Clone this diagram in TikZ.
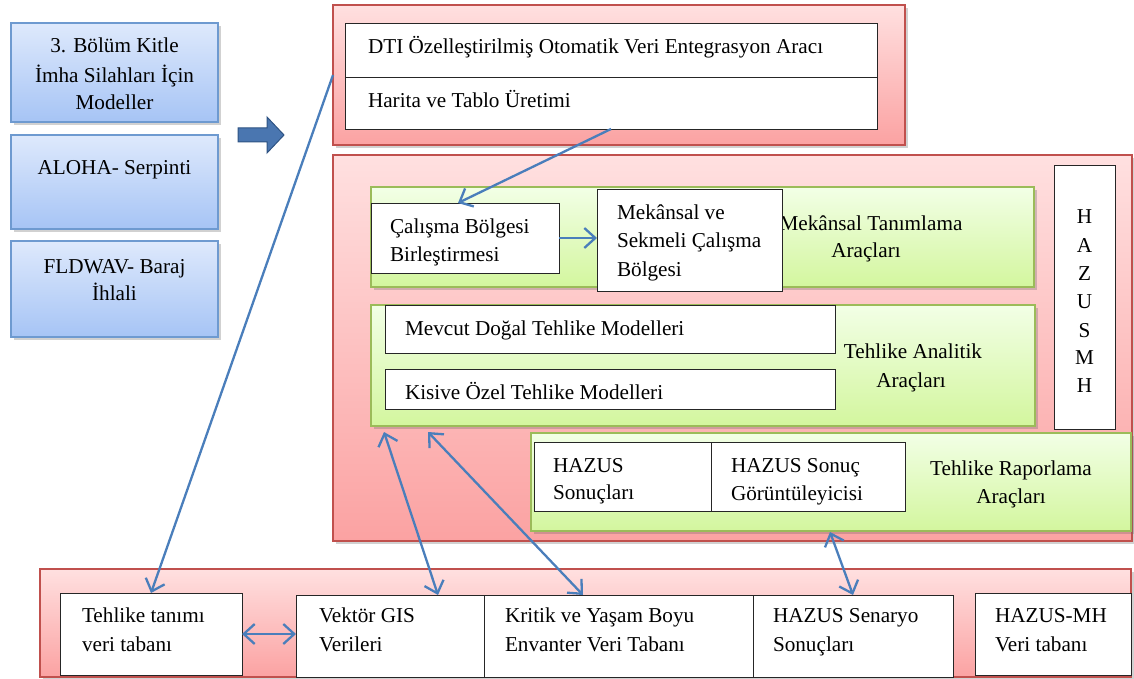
\documentclass[tikz,border=0pt]{standalone}
\usepackage{fontspec}
\setmainfont{Liberation Serif}
\usetikzlibrary{arrows.meta,shadows,calc}
\definecolor{redbd}{HTML}{C0504D}
\definecolor{redtop}{HTML}{FFE0E0}
\definecolor{redbot}{HTML}{FBA2A2}
\definecolor{grnbd}{HTML}{9BBB59}
\definecolor{grntop}{HTML}{F2FFE6}
\definecolor{grnbot}{HTML}{D3F69E}
\definecolor{blubd}{HTML}{6E9AD0}
\definecolor{blutop}{HTML}{DEE9FC}
\definecolor{blubot}{HTML}{A6C4F5}
\definecolor{arrc}{HTML}{4A7EBB}
\definecolor{barrfill}{HTML}{4A76B0}
\definecolor{barrdraw}{HTML}{2E5383}
\begin{document}
\begin{tikzpicture}[x=1pt,y=-1pt,
  every node/.style={inner sep=0pt, outer sep=0pt},
  fs/.style={font=\fontsize{21.2}{25}\selectfont},
  boxbase/.style={anchor=north west, rectangle},
  shad/.style={drop shadow={shadow xshift=3pt, shadow yshift=-3pt, opacity=0.3, fill=black!60}},
  redbox/.style={boxbase, draw=redbd, line width=1.4pt, top color=redtop, bottom color=redbot, shad},
  grnbox/.style={boxbase, draw=grnbd, line width=1.6pt, top color=grntop, bottom color=grnbot, shad},
  blubox/.style={boxbase, draw=blubd, line width=1.2pt, top color=blutop, bottom color=blubot, shad},
  whbox/.style={boxbase, draw=black!85, line width=0.9pt, fill=white},
  tl/.style={fs, anchor=base west},
  tc/.style={fs, anchor=base},
  conn/.style={draw=arrc, line width=2.3pt},
  tip/.style={-{Straight Barb[length=11pt, width=20pt, line width=2.3pt]}},
  tips/.style={{Straight Barb[length=11pt, width=20pt, line width=2.3pt]}-{Straight Barb[length=11pt, width=20pt, line width=2.3pt]}}
]
\useasboundingbox (0,0) rectangle (1134,679);

% left blue boxes
\node[blubox, minimum width=207pt, minimum height=99pt] (blue1) at (11,23) {};
\node[blubox, minimum width=207pt, minimum height=94pt] (blue2) at (11,135) {};
\node[blubox, minimum width=207pt, minimum height=96pt] (blue3) at (11,241) {};
\node[tc] (b1a) at (114.5,53) {3. Bölüm Kitle};
\node[tc] (b1b) at (114.5,83) {İmha Silahları İçin};
\node[tc] (b1c) at (114.5,110) {Modeller};
\node[tc] (b2a) at (114.5,175) {ALOHA- Serpinti};
\node[tc] (b3a) at (114.5,273) {FLDWAV- Baraj};
\node[tc] (b3b) at (114.5,300) {İhlali};

% block arrow
\draw[fill=barrfill, draw=barrdraw, line width=1pt, line join=miter]
  (238,128) -- (267,128) -- (267,117) -- (284,135) -- (267,153) -- (267,142) -- (238,142) -- cycle;

% top red box
\node[redbox, minimum width=572pt, minimum height=140pt] (topred) at (333,5) {};
\node[whbox, minimum width=532pt, minimum height=54pt] (dti) at (345,23) {};
\node[whbox, minimum width=532pt, minimum height=52pt] (harita) at (345,77) {};
\node[tl] (dtit) at (368,54) {DTI Özelleştirilmiş Otomatik Veri Entegrasyon Aracı};
\node[tl] (hart) at (368,108) {Harita ve Tablo Üretimi};

% middle red box
\node[redbox, minimum width=799pt, minimum height=386pt] (midred) at (333,155) {};

\node[grnbox, minimum width=663pt, minimum height=100pt] (green1) at (371,187) {};
\node[tc] (mt1) at (871,230) {Mekânsal Tanımlama};
\node[tc] (mt2) at (866,257) {Araçları};
\node[whbox, minimum width=188pt, minimum height=70pt] (calisma) at (371,203) {};
\node[tl] (ca1) at (390,233) {Çalışma Bölgesi};
\node[tl] (ca2) at (390,261) {Birleştirmesi};
\node[whbox, minimum width=185pt, minimum height=102pt] (mekansal) at (597,189) {};
\node[tl] (me1) at (617,219) {Mekânsal ve};
\node[tl] (me2) at (617,247) {Sekmeli Çalışma};
\node[tl] (me3) at (617,276) {Bölgesi};

\node[grnbox, minimum width=664pt, minimum height=121pt] (green2) at (371,305) {};
\node[whbox, minimum width=450pt, minimum height=48pt] (mevcut) at (385,305) {};
\node[whbox, minimum width=450pt, minimum height=40pt] (kisive) at (385,369) {};
\node[tl] (mvt) at (405,335) {Mevcut Doğal Tehlike Modelleri};
\node[tl] (kst) at (405,399) {Kisive Özel Tehlike Modelleri};
\node[tc] (ta1) at (913,358) {Tehlike Analitik};
\node[tc] (ta2) at (911,387) {Araçları};

\node[whbox, minimum width=61pt, minimum height=264pt] (hazusmh) at (1054,165) {};
\node[tc] (h1) at (1084.5,223) {H};
\node[tc] (h2) at (1084.5,252) {A};
\node[tc] (h3) at (1084.5,280) {Z};
\node[tc] (h4) at (1084.5,308) {U};
\node[tc] (h5) at (1084.5,337) {S};
\node[tc] (h6) at (1084.5,364) {M};
\node[tc] (h7) at (1084.5,392) {H};

\node[grnbox, minimum width=600pt, minimum height=98pt] (green3) at (531,433) {};
\node[whbox, minimum width=177pt, minimum height=69pt] (hsonuc) at (534,442) {};
\node[whbox, minimum width=194pt, minimum height=69pt] (hgor) at (711,442) {};
\node[tl] (hs1) at (553,472) {HAZUS};
\node[tl] (hs2) at (553,499) {Sonuçları};
\node[tl] (hg1) at (731,472) {HAZUS Sonuç};
\node[tl] (hg2) at (731,500) {Görüntüleyicisi};
\node[tc] (tr1) at (1011,475) {Tehlike Raporlama};
\node[tc] (tr2) at (1011,503) {Araçları};

% bottom red box
\node[redbox, minimum width=1091pt, minimum height=108pt] (botred) at (40,569) {};
\node[whbox, minimum width=182pt, minimum height=82pt] (tehlike) at (60,593) {};
\node[whbox, minimum width=188pt, minimum height=82pt] (vektor) at (296,595) {};
\node[whbox, minimum width=269pt, minimum height=82pt] (kritik) at (484,595) {};
\node[whbox, minimum width=200pt, minimum height=82pt] (senaryo) at (753,595) {};
\node[whbox, minimum width=156pt, minimum height=82pt] (hazusdb) at (975,593) {};
\node[tl] (te1) at (82,622) {Tehlike tanımı};
\node[tl] (te2) at (82,651) {veri tabanı};
\node[tl] (ve1) at (319,622) {Vektör GIS};
\node[tl] (ve2) at (319,651) {Verileri};
\node[tl] (kr1) at (505,622) {Kritik ve Yaşam Boyu};
\node[tl] (kr2) at (505,651) {Envanter Veri Tabanı};
\node[tl] (se1) at (773,622) {HAZUS Senaryo};
\node[tl] (se2) at (773,651) {Sonuçları};
\node[tl] (hd1) at (995,622) {HAZUS-MH};
\node[tl] (hd2) at (995,651) {Veri tabanı};

% connectors
\coordinate (c1) at ($(green2.south west)+(13,6)$);
\coordinate (c2) at ($(vektor.north west)+(142,0)$);
\coordinate (c3) at ($(green2.south west)+(57,6)$);
\coordinate (c4) at ($(kritik.north west)+(99,0)$);
\coordinate (c5) at ($(green3.south west)+(299,1)$);
\coordinate (c6) at ($(senaryo.north west)+(100,0)$);
\coordinate (c7) at ($(calisma.north)+(-7,0)$);

\draw[conn, tip] (topred.west) -- (tehlike.north);
\draw[conn, tip] (harita.south) -- (c7);
\draw[conn, tip] (calisma.east) -- (calisma.east -| mekansal.west);
\draw[conn, tips] (c1) -- (c2);
\draw[conn, tips] (c3) -- (c4);
\draw[conn, tips] (c5) -- (c6);
\draw[conn, tips] (tehlike.east) -- (tehlike.east -| vektor.west);
\end{tikzpicture}
\end{document}
